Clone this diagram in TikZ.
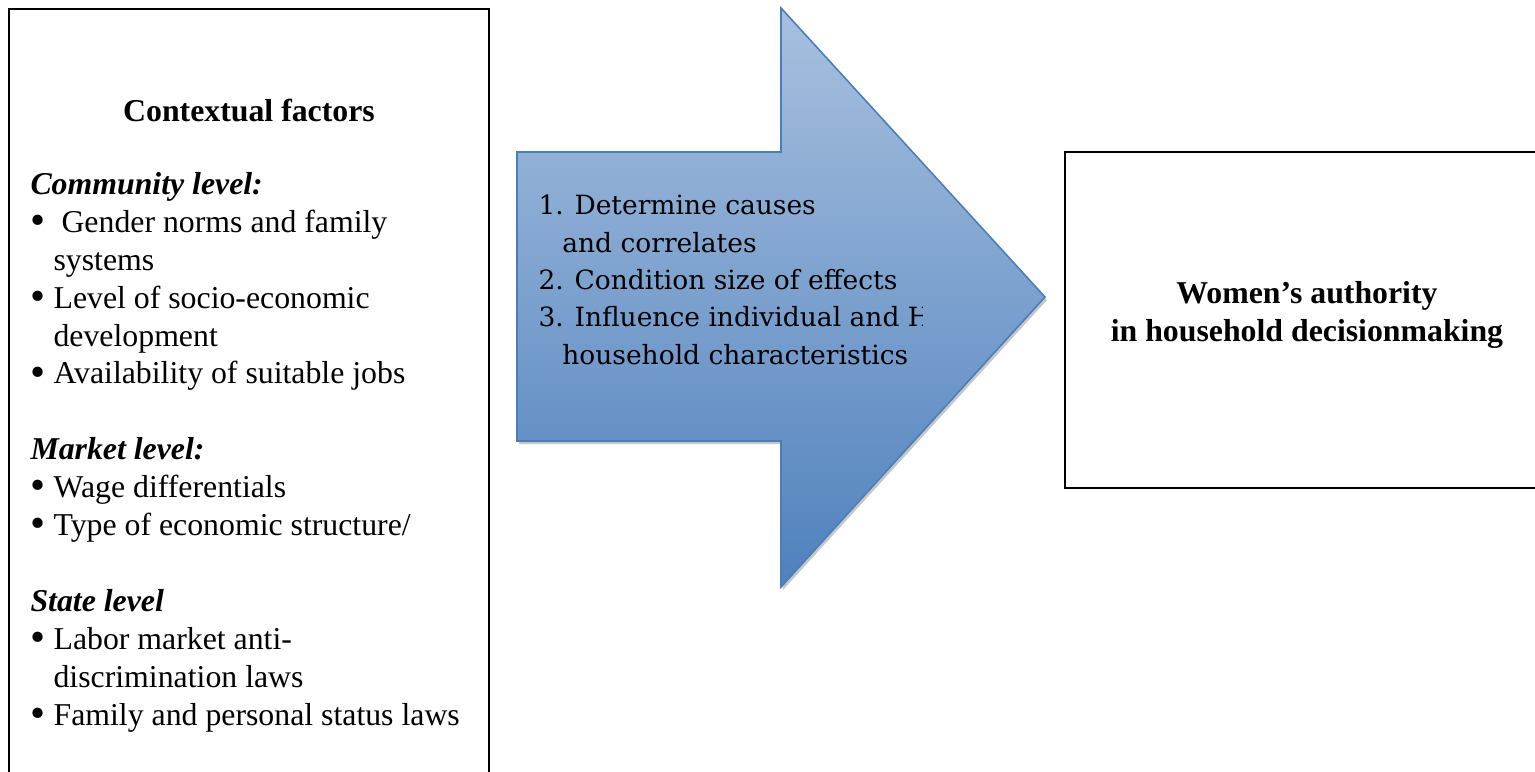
\documentclass[tikz,border=0pt]{standalone}
\usepackage{fontspec}
\setmainfont{Liberation Serif}
\newfontfamily\arrowfont{DejaVu Serif}
\usetikzlibrary{positioning}

\definecolor{arrowtop}{RGB}{168,192,223}
\definecolor{arrowbot}{RGB}{79,129,189}
\definecolor{arrowline}{RGB}{74,126,187}

\newcommand{\pxu}{0.3774pt}
\newcommand{\bul}{\makebox[8.7pt][l]{\raisebox{-0.15ex}{\scalebox{1.35}{\textbullet}}}}
\newcommand{\cont}{\hspace*{8.7pt}}
\newcommand{\num}[1]{\makebox[13.6pt][l]{#1}}

\tikzset{
  frame/.style={draw=black, line width=0.8pt, inner sep=0pt},
  heading/.style={font=\bfseries\fontsize{12}{14.3}\selectfont, anchor=base, inner sep=0pt},
  itemtext/.style={align=left, anchor=base west, inner sep=0pt, font=\fontsize{12}{14.3}\selectfont},
  steptext/.style={align=left, anchor=base west, inner sep=0pt, font=\arrowfont\fontsize{10}{14.06}\selectfont},
}

\begin{document}
\begin{tikzpicture}[x=\pxu, y=-\pxu]
    \useasboundingbox (0,0) rectangle (1535,772);

    % left box (anchored at the baseline of the last line)
    \node[frame, minimum width=480*\pxu, minimum height=791*\pxu] (context) at (249,404.5) {};
    \node[heading] (contexttitle) at (249,122) {Contextual factors};
    \node[itemtext] (contextlist) at (30,725) {%
        \textbf{\textit{Community level:}}\\
        \bul\ Gender norms and family\\
        \cont systems\\
        \bul Level of socio-economic\\
        \cont development\\
        \bul Availability of suitable jobs\\[14.3pt]
        \textbf{\textit{Market level:}}\\
        \bul Wage differentials\\
        \bul Type of economic structure/\\[14.3pt]
        \textbf{\textit{State level}}\\
        \bul Labor market anti-\\
        \cont discrimination laws\\
        \bul Family and personal status laws};

    % arrow
    \begin{scope}[shift={(2,3)}]
        \fill[black!22] (517,152) -- (781,152) -- (781,8) -- (1045,297) -- (781,587) -- (781,441) -- (517,441) -- cycle;
    \end{scope}
    \shade[top color=arrowtop, bottom color=arrowbot, draw=arrowline, line width=0.6pt]
        (517,152) -- (781,152) -- (781,8) -- (1045,297) -- (781,587) -- (781,441) -- (517,441) -- cycle;
    \begin{scope}
        \clip (517,152) rectangle (922,441);
        \node[steptext] (steps) at (538,364) {%
            \num{1.}Determine causes\\
            \hspace*{9pt}and correlates\\
            \num{2.}Condition size of effects\\
            \num{3.}Influence individual and H\\
            \hspace*{9pt}household characteristics};
    \end{scope}

    % right box
    \node[frame, line width=1.1pt, minimum width=535*\pxu, minimum height=336*\pxu] (outcome) at (1332.5,320) {};
    \node[heading, align=center] (outcometitle) at (1307,341) {Women’s authority\\ in household decisionmaking};
\end{tikzpicture}
\end{document}
